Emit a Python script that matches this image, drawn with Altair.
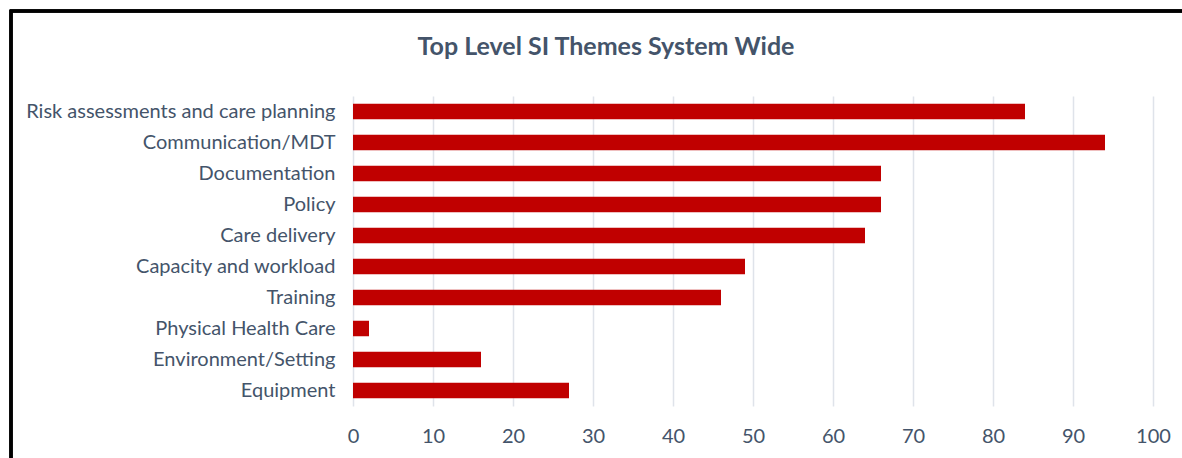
import altair as alt
import pandas as pd

themes = [
    "Risk assessments and care planning",
    "Communication/MDT",
    "Documentation",
    "Policy",
    "Care delivery",
    "Capacity and workload",
    "Training",
    "Physical Health Care",
    "Environment/Setting",
    "Equipment",
]
counts = [84, 94, 66, 66, 64, 49, 46, 2, 16, 27]
x_ticks = [0, 10, 20, 30, 40, 50, 60, 70, 80, 90, 100]
title_text = "Top Level SI Themes System Wide"

df = pd.DataFrame({"theme": themes, "count": counts})

FONT = "Lato"
TXT = "#44546A"

bars = alt.Chart(df).mark_bar(color="#C00000").encode(
    x=alt.X(
        "count:Q",
        scale=alt.Scale(domain=[0, 100], nice=False),
        axis=alt.Axis(
            values=x_ticks,
            title=None,
            domain=False,
            ticks=False,
            grid=True,
            gridColor="#DFE3EA",
            gridWidth=1.5,
            labelFont=FONT,
            labelFontSize=20,
            labelColor=TXT,
            labelPadding=20,
            labelFlush=False,
        ),
    ),
    y=alt.Y(
        "theme:N",
        sort=themes,
        scale=alt.Scale(paddingInner=0.5, paddingOuter=0.25),
        axis=alt.Axis(
            title=None,
            domain=False,
            ticks=False,
            labelFont=FONT,
            labelFontSize=20,
            labelColor=TXT,
            labelPadding=18,
            labelLimit=400,
        ),
    ),
)

frame = alt.Chart(df).mark_rect(
    fill=None, stroke="#000000", strokeWidth=2.5, clip=False
).encode(
    x=alt.value(-342),
    x2=alt.value(860),
    y=alt.value(-85),
    y2=alt.value(400),
)

title = alt.Chart(pd.DataFrame({"t": [title_text]})).mark_text(
    font=FONT,
    fontSize=25,
    fontWeight="bold",
    color=TXT,
    align="center",
    baseline="middle",
).encode(
    text="t:N",
    x=alt.value(253),
    y=alt.value(-49),
)

chart = alt.layer(bars, frame, title).properties(
    width=800,
    height=310,
    autosize="none",
    padding={"left": 353, "top": 96, "right": 29, "bottom": 52},
).configure(background="white").configure_view(stroke=None)

chart.save("out.html", embed_options={"renderer": "svg", "actions": False})
